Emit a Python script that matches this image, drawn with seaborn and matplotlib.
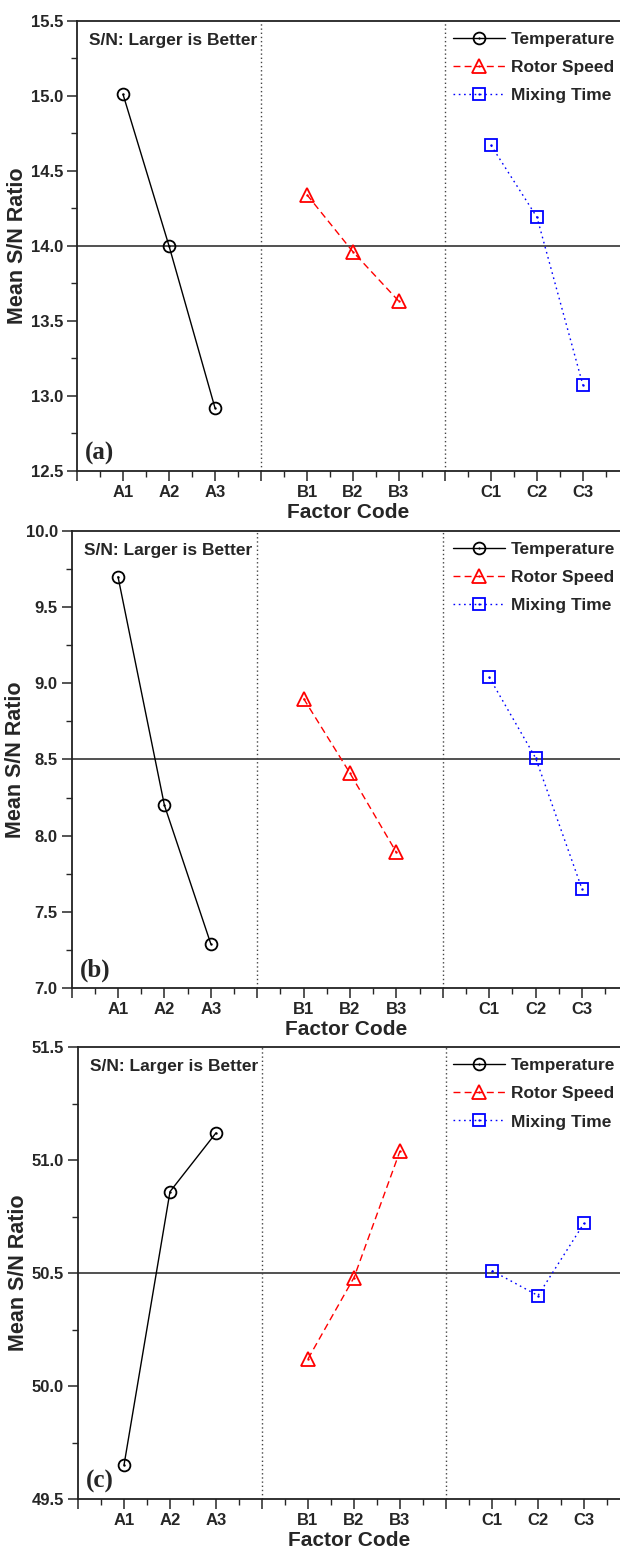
import matplotlib
matplotlib.use("Agg")
import matplotlib.pyplot as plt
import seaborn as sns
import pandas as pd
from matplotlib.lines import Line2D
from matplotlib.legend_handler import HandlerTuple
from matplotlib.ticker import MultipleLocator, FixedLocator

# factor levels and where they sit on the x axis
factor_names = ["Temperature", "Rotor Speed", "Mixing Time"]
level_labels = [["A1", "A2", "A3"], ["B1", "B2", "B3"], ["C1", "C2", "C3"]]
level_pos = [[1, 2, 3], [5, 6, 7], [9, 10, 11]]
divider_pos = [4, 8]

# mean S/N ratios
sn_a = [[15.01, 14.00, 12.92], [14.34, 13.96, 13.63], [14.67, 14.19, 13.07]]
sn_b = [[9.70, 8.20, 7.29], [8.90, 8.41, 7.89], [9.04, 8.51, 7.65]]
sn_c = [[49.65, 50.86, 51.12], [50.12, 50.48, 51.04], [50.51, 50.40, 50.72]]
overall_mean = [14.0, 8.5, 50.5]
y_limits = [(12.5, 15.5), (7.0, 10.0), (49.5, 51.5)]
panel_tags = ["(a)", "(b)", "(c)"]

colors = ["black", "#ff0000", "#0000ff"]
markers = ["o", "^", "s"]
marker_sizes = [8.5, 10.0, 8.0]
line_styles = ["-", (0, (5, 3)), (0, (1.2, 2.6))]

sns.set_style("ticks")
plt.rcParams["font.family"] = ["Liberation Sans", "DejaVu Sans"]
plt.rcParams["font.weight"] = "bold"
plt.rcParams["axes.labelweight"] = "bold"

fig = plt.figure(figsize=(6.2, 15.52), dpi=100)

# axes rectangles in figure pixels: x0 of data 0, top, bottom, px per x unit
panel_px = [(77, 20.7, 471, 46.0), (71.6, 531, 988, 46.4), (78, 1047, 1499, 46.0)]
ylabel_x = [28, 26, 29]  # right edge of the rotated y label, px
W, H = 620.0, 1552.0

for k, sn in enumerate([sn_a, sn_b, sn_c]):
    x0, top, bot, unit = panel_px[k]
    ax = fig.add_axes([x0 / W, 1 - bot / H, 1 - x0 / W, (bot - top) / H])
    h_px = bot - top

    df = pd.DataFrame({
        "pos": sum(level_pos, []),
        "sn": sum(sn, []),
        "factor": [f for f in factor_names for _ in range(3)],
    })

    ax.axhline(overall_mean[k], color="#333333", lw=1.2, zorder=1)
    for d in divider_pos:
        ax.axvline(d, color="#444444", lw=1.0, ls=(0, (1, 2)), zorder=1)

    handles = []
    for i, name in enumerate(factor_names):
        sub = df[df["factor"] == name]
        sns.lineplot(data=sub, x="pos", y="sn", ax=ax, color=colors[i],
                     linestyle=line_styles[i], lw=1.0, marker=markers[i],
                     markersize=marker_sizes[i], markerfacecolor="none",
                     markeredgecolor=colors[i], markeredgewidth=1.3,
                     legend=False, zorder=3)
        sns.scatterplot(data=sub, x="pos", y="sn", ax=ax, color=colors[i],
                        s=3, linewidth=0, legend=False, zorder=4)
        h1 = Line2D([], [], color=colors[i], ls=line_styles[i], lw=1.0,
                    marker=markers[i], markersize=marker_sizes[i],
                    markerfacecolor="none", markeredgecolor=colors[i],
                    markeredgewidth=1.3)
        h2 = Line2D([], [], color=colors[i], ls="none", marker="o",
                    markersize=1.6, markeredgewidth=0)
        handles.append((h1, h2))

    ax.set_xlim(0, (W - x0) / unit)
    ax.set_ylim(*y_limits[k])
    ax.xaxis.set_major_locator(FixedLocator(list(range(12))))
    labels = [""] * 12
    for grp, labs in zip(level_pos, level_labels):
        for p, lab in zip(grp, labs):
            labels[p] = lab
    ax.set_xticklabels(labels)
    ax.xaxis.set_minor_locator(MultipleLocator(0.5))
    ax.yaxis.set_major_locator(MultipleLocator(0.5))
    ax.yaxis.set_minor_locator(MultipleLocator(0.25))
    ax.yaxis.set_major_formatter(matplotlib.ticker.FormatStrFormatter("%.1f"))

    ax.tick_params(axis="both", which="major", direction="out", length=7,
                   width=1.1, labelsize=12, pad=3, top=False, right=False)
    ax.tick_params(axis="both", which="minor", direction="out", length=4,
                   width=1.0, top=False, right=False)
    for lab in ax.get_xticklabels() + ax.get_yticklabels():
        lab.set_fontweight("bold")
    for side in ["left", "bottom", "top"]:
        ax.spines[side].set_linewidth(1.3)
        ax.spines[side].set_color("#222222")
    ax.spines["right"].set_visible(False)

    ax.set_xlabel("Factor Code", fontsize=15, fontweight="bold", labelpad=2)
    ax.set_ylabel("Mean S/N Ratio", fontsize=15.5, fontweight="bold")
    ax.yaxis.set_label_coords((ylabel_x[k] - x0) / (W - x0), 0.5)

    ax.text(12 / (W - x0), 1 - 20 / h_px, "S/N: Larger is Better",
            transform=ax.transAxes, fontsize=12.5, fontweight="bold",
            ha="left", va="center")
    ax.text(8 / (W - x0), 18 / h_px, panel_tags[k], transform=ax.transAxes,
            fontsize=18, fontweight="bold", family="Liberation Serif",
            ha="left", va="center")

    ax.legend(handles, factor_names,
              handler_map={tuple: HandlerTuple(ndivide=1, pad=0)},
              loc="upper left", bbox_to_anchor=((453 - x0) / (W - x0), 1 - 11 / h_px),
              frameon=False, fontsize=12.5, handlelength=3.0, handletextpad=0.35,
              labelspacing=0.75, borderpad=0, borderaxespad=0)

fig.savefig("out.png", dpi=100)
